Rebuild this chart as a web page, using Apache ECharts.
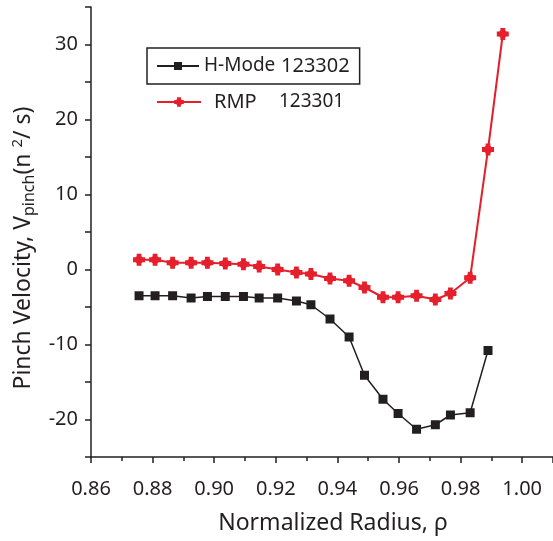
<!DOCTYPE html>
<html>
<head>
<meta charset="utf-8">
<script src="https://cdn.jsdelivr.net/npm/echarts@6/dist/echarts.min.js"></script>
<style>
    html, body { margin: 0; padding: 0; background: #fff; }
    #chart { width: 553px; height: 541px; }
</style>
</head>
<body>
<div id="chart"></div>
<script>
    // normalized radius of each point
    var rhoHMode = [0.8756, 0.8808, 0.8865, 0.8925, 0.8978, 0.9036, 0.9095, 0.9146, 0.9206, 0.9267, 0.9314,
        0.9376, 0.9438, 0.9488, 0.9548, 0.9597, 0.9657, 0.9718, 0.9767, 0.9831, 0.9889];
    var vHMode = [-3.5, -3.5, -3.5, -3.8, -3.6, -3.6, -3.6, -3.8, -3.8, -4.2, -4.7,
        -6.6, -9.0, -14.1, -17.3, -19.2, -21.3, -20.7, -19.4, -19.1, -10.8];

    var rhoRMP = [0.8756, 0.8808, 0.8865, 0.8925, 0.8978, 0.9036, 0.9095, 0.9146, 0.9206, 0.9267, 0.9314,
        0.9376, 0.9438, 0.9488, 0.9548, 0.9597, 0.9657, 0.9718, 0.9767, 0.9831, 0.9889, 0.9937];
    var vRMP = [1.3, 1.3, 0.9, 0.9, 0.9, 0.8, 0.7, 0.4, 0.0, -0.4, -0.6,
        -1.2, -1.5, -2.4, -3.7, -3.7, -3.5, -4.0, -3.2, -1.1, 16.0, 31.4];

    var seriesNames = ['H-Mode', 'RMP'];
    var shotNumbers = ['123302', '123301'];

    var textColor = '#231f20';
    var red = '#e51f2c';
    var fontFamily = '"Noto Sans", sans-serif';
    // chunky plus with bevelled corners, like the red markers
    var crossSymbol = 'path://M3,0 L7,0 L7,2 L8,3 L10,3 L10,7 L8,7 L7,8 L7,10 L3,10 L3,8 L2,7 L0,7 L0,3 L2,3 L3,2 Z';

    function zip(xs, ys) {
        var out = [];
        for (var i = 0; i < xs.length; i++) {
            out.push([xs[i], ys[i]]);
        }
        return out;
    }

    var chart = echarts.init(document.getElementById('chart'), null, {renderer: 'canvas'});

    var option = {
        animation: false,
        backgroundColor: '#fff',
        textStyle: {fontFamily: fontFamily, color: textColor},
        grid: {left: 91, top: 7, right: 0, bottom: 84, containLabel: false},
        legend: [{
            data: [seriesNames[0]],
            left: 147,
            top: 48,
            orient: 'vertical',
            padding: [8, 10, 8, 9],
            borderColor: textColor,
            borderWidth: 1.5,
            itemWidth: 42,
            itemHeight: 10,
            itemGap: 5,
            formatter: function () {
                return '{a|H-Mode}{b|' + shotNumbers[0] + '}';
            },
            textStyle: {
                color: textColor,
                rich: {
                    a: {fontSize: 19, width: 77, fontFamily: fontFamily, color: textColor},
                    b: {fontSize: 20, fontFamily: fontFamily, color: textColor}
                }
            }
        }, {
            data: [seriesNames[1]],
            left: 147,
            top: 92,
            orient: 'vertical',
            padding: [0, 10, 0, 9],
            itemWidth: 44,
            itemHeight: 12,
            formatter: function () {
                return '{a|RMP}{b|' + shotNumbers[1] + '}';
            },
            textStyle: {
                color: textColor,
                rich: {
                    a: {fontSize: 20, width: 65, padding: [0, 0, 0, 8], fontFamily: fontFamily, color: textColor},
                    b: {fontSize: 19, fontFamily: fontFamily, color: textColor}
                }
            }
        }],
        xAxis: {
            type: 'value',
            min: 0.86,
            max: 1.01,
            interval: 0.02,
            name: 'Normalized Radius, ρ',
            nameLocation: 'middle',
            nameGap: 55,
            nameTextStyle: {fontSize: 23, color: textColor, padding: [0, 0, 0, 22]},
            axisLine: {onZero: false, lineStyle: {color: textColor, width: 1.5}},
            axisTick: {length: 6, lineStyle: {color: textColor, width: 1.5}},
            minorTick: {show: true, splitNumber: 2, length: 4, lineStyle: {color: textColor, width: 1.5}},
            splitLine: {show: false},
            axisLabel: {
                fontSize: 20,
                color: textColor,
                margin: 22,
                showMaxLabel: false,
                formatter: function (v) {
                    return v.toFixed(2);
                }
            }
        },
        yAxis: {
            type: 'value',
            min: -25,
            max: 35,
            interval: 5,
            name: '{t|Pinch Velocity, V}{sub|pinch}{t|(n }{sup|2}{t|/ s)}',
            nameLocation: 'middle',
            nameGap: 42,
            nameRotate: 90,
            nameTextStyle: {
                color: textColor,
                padding: [0, 32, 0, 0],
                rich: {
                    t: {fontSize: 23, lineHeight: 28, color: textColor, fontFamily: fontFamily},
                    sub: {fontSize: 16, lineHeight: 28, verticalAlign: 'bottom', color: textColor, fontFamily: fontFamily},
                    sup: {fontSize: 15, lineHeight: 28, verticalAlign: 'top', color: textColor, fontFamily: fontFamily}
                }
            },
            axisLine: {lineStyle: {color: textColor, width: 1.5}},
            axisTick: {length: 6, lineStyle: {color: textColor, width: 1.5}},
            splitLine: {show: false},
            axisLabel: {
                fontSize: 20,
                color: textColor,
                margin: 13,
                formatter: function (v) {
                    return v % 10 === 0 ? String(v) : '';
                }
            }
        },
        series: [{
            name: seriesNames[0],
            type: 'line',
            data: zip(rhoHMode, vHMode),
            symbol: 'rect',
            symbolSize: 9,
            itemStyle: {color: textColor},
            lineStyle: {color: textColor, width: 1.5}
        }, {
            name: seriesNames[1],
            type: 'line',
            data: zip(rhoRMP, vRMP),
            symbol: crossSymbol,
            symbolSize: 12,
            itemStyle: {color: red},
            lineStyle: {color: red, width: 2}
        }]
    };

    chart.setOption(option);
</script>
</body>
</html>
